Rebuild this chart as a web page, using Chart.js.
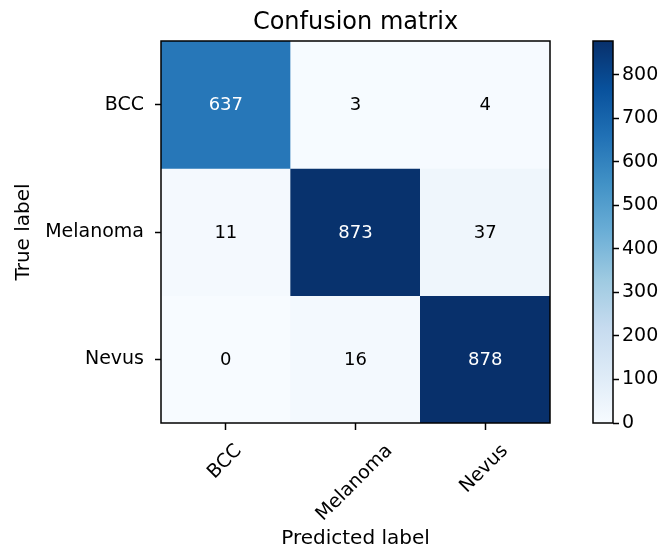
<!DOCTYPE html>
<html lang="en">
<head>
  <meta charset="UTF-8">
  <title>Confusion matrix</title>
  <style>
    * { margin: 0; padding: 0; box-sizing: border-box; }
    body { background: #fff; width: 664px; height: 546px; overflow: hidden; }
    .wrap { position: relative; width: 664px; height: 546px; }
    .wrap canvas { position: absolute; top: 0; }
    #matrix { left: 0; }
    #colorbar { left: 560px; }
  </style>
</head>
<body>
  <div class="wrap">
    <canvas id="matrix" width="664" height="546"></canvas>
    <canvas id="colorbar" width="104" height="546"></canvas>
  </div>

  <script src="https://cdn.jsdelivr.net/npm/chart.js"></script>
  <script>
    // data
    const classes = ['BCC', 'Melanoma', 'Nevus'];
    const rowBCC      = [637, 3, 4];
    const rowMelanoma = [11, 873, 37];
    const rowNevus    = [0, 16, 878];
    const rows = [rowBCC, rowMelanoma, rowNevus];
    const colorbarTicks = [0, 100, 200, 300, 400, 500, 600, 700, 800];
    const vmax = 878;

    // matplotlib "Blues"
    const blues = ['#f7fbff', '#deebf7', '#c6dbef', '#9ecae1', '#6baed6',
                   '#4292c6', '#2171b5', '#08519c', '#08306b'];

    function hex(h) {
      return [1, 3, 5].map(i => parseInt(h.slice(i, i + 2), 16));
    }
    function bluesAt(v) {
      const t = Math.max(0, Math.min(1, v / vmax)) * (blues.length - 1);
      const k = Math.min(Math.floor(t), blues.length - 2);
      const f = t - k;
      const a = hex(blues[k]), b = hex(blues[k + 1]);
      const c = a.map((x, i) => Math.round(x + (b[i] - x) * f));
      return `rgb(${c[0]},${c[1]},${c[2]})`;
    }

    Chart.defaults.font.family = "'DejaVu Sans', sans-serif";
    Chart.defaults.color = '#000';

    const FONT = "'DejaVu Sans', sans-serif";

    const decorations = {
      id: 'decorations',
      afterDatasetsDraw(chart) {
        const { ctx, chartArea: a } = chart;
        ctx.save();
        // cell values
        ctx.font = '18px ' + FONT;
        ctx.textAlign = 'center';
        ctx.textBaseline = 'middle';
        rows.forEach((row, i) => {
          const meta = chart.getDatasetMeta(i);
          row.forEach((v, j) => {
            const el = meta.data[j];
            ctx.fillStyle = v > vmax / 2 ? '#fff' : '#000';
            ctx.fillText(String(v), el.x, (el.y + el.base) / 2 + 1);
          });
        });
        // frame
        ctx.strokeStyle = '#000';
        ctx.lineWidth = 1.5;
        ctx.strokeRect(a.left, a.top, a.right - a.left, a.bottom - a.top);
        ctx.restore();
      },
      afterDraw(chart) {
        const { ctx, chartArea: a, scales } = chart;
        ctx.save();
        ctx.fillStyle = '#000';
        // title
        ctx.font = '24px ' + FONT;
        ctx.textAlign = 'center';
        ctx.textBaseline = 'middle';
        ctx.fillText('Confusion matrix', (a.left + a.right) / 2, 23);
        // rotated x tick labels, centred on each tick
        ctx.font = '19px ' + FONT;
        classes.forEach((c, i) => {
          const x = scales.x.getPixelForTick(i);
          const w = ctx.measureText(c).width;
          const half = (w + 14) * Math.SQRT1_2 / 2;
          ctx.save();
          ctx.translate(x - 1, a.bottom + 20 + half);
          ctx.rotate(-Math.PI / 4);
          ctx.fillText(c, 0, 0);
          ctx.restore();
        });
        // axis titles
        ctx.font = '20px ' + FONT;
        ctx.textBaseline = 'alphabetic';
        ctx.fillText('Predicted label', (a.left + a.right) / 2, 544);
        ctx.save();
        ctx.translate(29, (a.top + a.bottom) / 2);
        ctx.rotate(-Math.PI / 2);
        ctx.fillText('True label', 0, 0);
        ctx.restore();
        ctx.restore();
      }
    };

    new Chart(document.getElementById('matrix'), {
      type: 'bar',
      data: {
        labels: classes,
        datasets: rows.map((row, i) => ({
          label: classes[i],
          data: row.map(() => [i, i + 1]),
          backgroundColor: row.map(bluesAt),
          borderWidth: 0,
          barPercentage: 1,
          categoryPercentage: 1,
          grouped: false
        }))
      },
      options: {
        responsive: false,
        animation: false,
        events: [],
        layout: { padding: { left: 0, top: 41, right: 114, bottom: 0 } },
        plugins: { legend: { display: false }, tooltip: { enabled: false } },
        scales: {
          x: {
            offset: true,
            afterFit: s => { s.height = 123; },
            grid: { offset: false, drawOnChartArea: false, drawTicks: true,
                    tickLength: 7, tickWidth: 1.5, tickColor: '#000' },
            border: { display: false },
            ticks: { display: false }
          },
          y: {
            min: 0, max: 3, reverse: true,
            afterFit: s => { s.width = 161; },
            afterBuildTicks: s => { s.ticks = classes.map((c, i) => ({ value: i + 0.5 })); },
            grid: { drawOnChartArea: false, drawTicks: true,
                    tickLength: 6, tickWidth: 1.5, tickColor: '#000' },
            border: { display: false },
            ticks: {
              padding: 11,
              font: { size: 19 },
              color: '#000',
              callback: v => classes[Math.floor(v)]
            }
          }
        }
      },
      plugins: [decorations]
    });

    // colour bar
    const cbFrame = {
      id: 'cbFrame',
      afterDatasetsDraw(chart) {
        const { ctx, chartArea: a } = chart;
        ctx.save();
        ctx.strokeStyle = '#000';
        ctx.lineWidth = 1.5;
        ctx.strokeRect(a.left, a.top, a.right - a.left, a.bottom - a.top);
        ctx.restore();
      }
    };

    new Chart(document.getElementById('colorbar'), {
      type: 'bar',
      data: {
        labels: ['scale'],
        datasets: [{
          data: [[0, vmax]],
          borderWidth: 0,
          barPercentage: 1,
          categoryPercentage: 1,
          backgroundColor: c => {
            const a = c.chart.chartArea;
            if (!a) return blues[4];
            const g = c.chart.ctx.createLinearGradient(0, a.bottom, 0, a.top);
            blues.forEach((col, k) => g.addColorStop(k / (blues.length - 1), col));
            return g;
          }
        }]
      },
      options: {
        responsive: false,
        animation: false,
        events: [],
        layout: { padding: { left: 33, top: 41, right: 0, bottom: 123 } },
        plugins: { legend: { display: false }, tooltip: { enabled: false } },
        scales: {
          x: { display: false },
          y: {
            position: 'right',
            min: 0, max: vmax,
            afterFit: s => { s.width = 51; },
            afterBuildTicks: s => { s.ticks = colorbarTicks.map(v => ({ value: v })); },
            grid: { drawOnChartArea: false, drawTicks: true,
                    tickLength: 6, tickWidth: 1.5, tickColor: '#000' },
            border: { display: false },
            ticks: { padding: 3, font: { size: 19 }, color: '#000' }
          }
        }
      },
      plugins: [cbFrame]
    });
  </script>
</body>
</html>
